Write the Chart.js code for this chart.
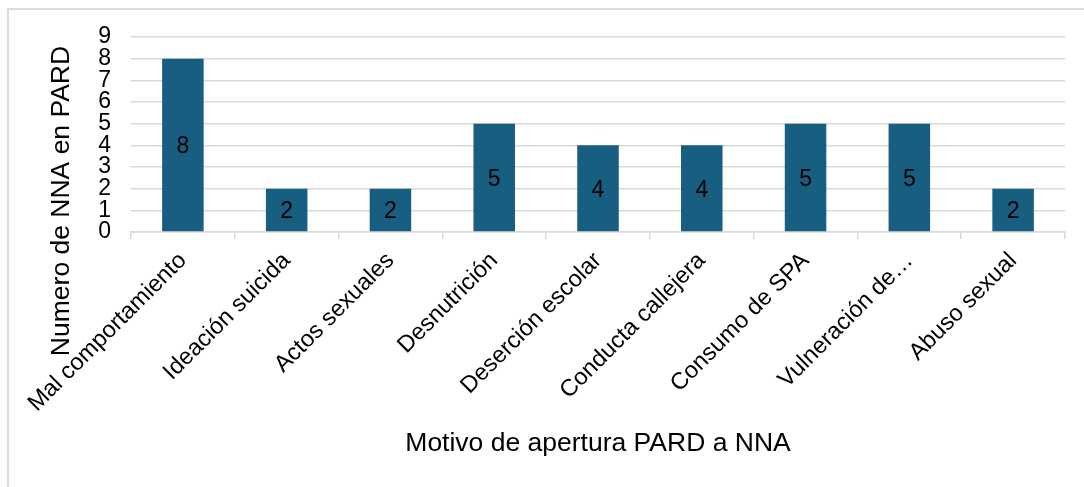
<!DOCTYPE html>
<html>
<head>
<meta charset="utf-8">
<script src="https://cdn.jsdelivr.net/npm/chart.js"></script>
<style>
  body { margin: 0; background: #fff; overflow: hidden; }
  #marco { position: absolute; left: 7px; top: 8px; width: 1200px; height: 600px; border: 2px solid #dcdcdc; }
  #grafico { position: absolute; left: 0; top: 0; }
</style>
</head>
<body>
<div id="marco"></div>
<canvas id="grafico" width="1084" height="487"></canvas>
<script>
// datos del grafico
const categorias = ['Mal comportamiento', 'Ideación suicida', 'Actos sexuales', 'Desnutrición',
    'Deserción escolar', 'Conducta callejera', 'Consumo de SPA', 'Vulneración de…', 'Abuso sexual'];
const valores = [8, 2, 2, 5, 4, 4, 5, 5, 2];
const ticksY = [0, 1, 2, 3, 4, 5, 6, 7, 8, 9];
const tituloX = 'Motivo de apertura PARD a NNA';
const tituloY = 'Numero de NNA en PARD';

const fuente = '"Liberation Sans", Arial, sans-serif';

// etiquetas dentro de las barras + titulos de ejes
const etiquetas = {
    id: 'etiquetas',
    afterDatasetsDraw(chart) {
        const ctx = chart.ctx;
        const meta = chart.getDatasetMeta(0);
        ctx.save();
        ctx.font = '23px ' + fuente;
        ctx.fillStyle = '#000';
        ctx.textAlign = 'center';
        ctx.textBaseline = 'middle';
        meta.data.forEach((bar, i) => {
            ctx.fillText(String(valores[i]), bar.x, (bar.y + bar.base) / 2 + 2);
        });
        ctx.restore();
    },
    afterDraw(chart) {
        const ctx = chart.ctx;
        ctx.save();
        ctx.font = '26.5px ' + fuente;
        ctx.fillStyle = '#000';
        ctx.textAlign = 'center';
        ctx.textBaseline = 'middle';
        ctx.fillText(tituloX, 598, 444);
        ctx.translate(62, 201);
        ctx.rotate(-Math.PI / 2);
        ctx.fillText(tituloY, 0, 0);
        ctx.restore();
    }
};

new Chart(document.getElementById('grafico'), {
    type: 'bar',
    data: {
        labels: categorias,
        datasets: [{
            data: valores,
            backgroundColor: '#175e80',
            barPercentage: 0.4,
            categoryPercentage: 1
        }]
    },
    options: {
        responsive: false,
        animation: false,
        layout: { padding: { top: 37, right: 19, left: 0, bottom: 0 } },
        plugins: { legend: { display: false }, tooltip: { enabled: false } },
        scales: {
            x: {
                grid: { offset: true, drawOnChartArea: false, tickLength: 7, color: '#d9d9d9', lineWidth: 1.5 },
                border: { color: '#d9d9d9', width: 1.5 },
                ticks: { minRotation: 45, maxRotation: 45, autoSkip: false, padding: 8, color: '#000',
                    font: { family: fuente, size: 23.5 } },
                afterFit(s) { s.height = 255; }
            },
            y: {
                min: 0,
                max: 9,
                afterBuildTicks(s) { s.ticks = ticksY.map(v => ({ value: v })); },
                grid: { color: '#d9d9d9', lineWidth: 1.5, drawTicks: false },
                border: { display: false },
                ticks: { autoSkip: false, padding: 20, color: '#000', font: { family: fuente, size: 23 } },
                afterFit(s) { s.width = 131; }
            }
        }
    },
    plugins: [etiquetas]
});
</script>
</body>
</html>
